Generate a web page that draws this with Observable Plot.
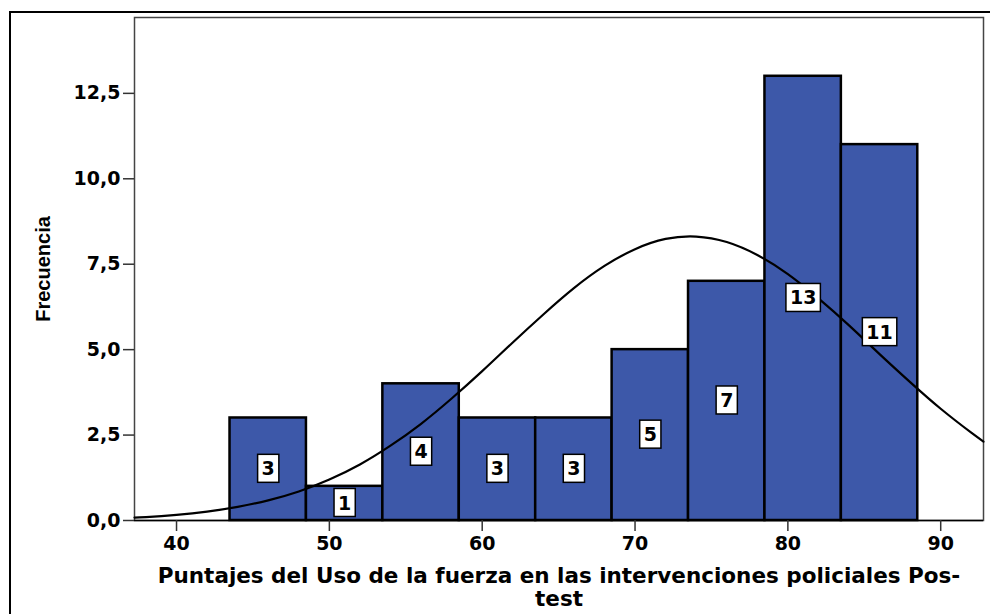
<!DOCTYPE html>
<html><head><meta charset="utf-8">
<script src="https://cdn.jsdelivr.net/npm/d3@7"></script>
<script src="https://cdn.jsdelivr.net/npm/@observablehq/plot@0.6"></script>
<style>
html,body{margin:0;padding:0;background:#fff;overflow:hidden;width:990px;height:614px}
#wrap{position:relative;width:990px;height:614px}
#wrap svg{position:absolute;left:0;top:0}
#outer{position:absolute;left:9px;top:11px;width:1100px;height:800px;border:2px solid #000;pointer-events:none}
</style></head><body><div id="wrap"><div id="outer"></div></div>
<script>
// Histogram bins (bin edges) and counts
const binLo = [43.5, 48.5, 53.5, 58.5, 63.5, 68.5, 73.5, 78.5, 83.5];
const binHi = [48.5, 53.5, 58.5, 63.5, 68.5, 73.5, 78.5, 83.5, 88.5];
const counts = [3, 1, 4, 3, 3, 5, 7, 13, 11];
// Normal curve
const curveX = [37.25, 38, 40, 42, 44, 46, 48, 50, 52, 54, 56, 58, 60, 62, 64, 66, 68, 70, 72, 74, 76, 78, 80, 82, 84, 86, 88, 90, 92, 92.8];
const curveY = [0.085, 0.10, 0.165, 0.26, 0.40, 0.59, 0.85, 1.20, 1.64, 2.19, 2.83, 3.57, 4.37, 5.21, 6.03, 6.80, 7.45, 7.94, 8.24, 8.31, 8.15, 7.77, 7.21, 6.50, 5.71, 4.87, 4.05, 3.27, 2.57, 2.31];
const xTicks = [40, 50, 60, 70, 80, 90];
const yTicks = [0, 2.5, 5, 7.5, 10, 12.5];
const xTitle = "Puntajes del Uso de la fuerza en las intervenciones policiales Pos-\ntest";
const yTitle = "Frecuencia";

const bars = counts.map((c, i) => ({x1: binLo[i], x2: binHi[i], y: c}));
const curve = curveX.map((x, i) => ({x, y: curveY[i]}));
const fmt = d => d.toFixed(1).replace(".", ",");
const FONT = "DejaVu Sans";

const svg = Plot.plot({
  width: 990,
  height: 614,
  marginLeft: 134,
  marginTop: 17,
  marginRight: 7,
  marginBottom: 94,
  style: {fontFamily: FONT, fontWeight: "bold", fontSize: "19px", background: "transparent", color: "#000"},
  x: {domain: [37.25, 92.8]},
  y: {domain: [0, 14.72]},
  marks: [
    Plot.frame({stroke: "#444", strokeWidth: 1.5}),
    Plot.rectY(bars, {x1: "x1", x2: "x2", y: "y", fill: "#3d58a9", stroke: "#000", strokeWidth: 2.5, inset: 0}),
    Plot.line(curve, {x: "x", y: "y", stroke: "#000", strokeWidth: 2.2, curve: "natural"}),
    Plot.ruleY([0], {stroke: "#000", strokeWidth: 1.5}),
    Plot.axisY({ticks: yTicks, tickFormat: fmt, tickSize: 11, tickPadding: 3, label: null, stroke: "#333", strokeWidth: 1.5, fontSize: 19, fontWeight: "bold", fontFamily: FONT}),
    Plot.axisX({ticks: xTicks, tickSize: 11, tickPadding: 5, label: null, stroke: "#333", strokeWidth: 1.5, fontSize: 19, fontWeight: "bold", fontFamily: FONT}),
    Plot.text([xTitle], {frameAnchor: "bottom", dx: 0, dy: 67, lineAnchor: "middle", lineHeight: 1.06, fontSize: 21.5, fontWeight: "bold", fontFamily: FONT, fill: "#000"}),
    Plot.text([yTitle], {frameAnchor: "left", dx: -90.5, rotate: -90, textAnchor: "middle", fontSize: 20, fontWeight: "bold", fontFamily: "Liberation Sans", fill: "#000"}),
    Plot.text(bars, {x: d => (d.x1 + d.x2) / 2, y: d => d.y / 2, text: d => String(d.y), fontSize: 19, fontWeight: "bold", fontFamily: FONT, fill: "#000"})
  ]
});
document.getElementById("wrap").insertBefore(svg, document.getElementById("outer"));

// white boxes behind the bar labels (last mark), sized from the rendered text
const groups = svg.querySelectorAll(":scope > g");
const g = groups[groups.length - 1];
if (g) {
  g.querySelectorAll("text").forEach(t => {
    const b = t.getBBox();
    const r = document.createElementNS("http://www.w3.org/2000/svg", "rect");
    r.setAttribute("x", b.x - 4);
    r.setAttribute("y", b.y - 3);
    r.setAttribute("width", b.width + 8);
    r.setAttribute("height", b.height + 6);
    r.setAttribute("fill", "#fff");
    r.setAttribute("stroke", "#000");
    r.setAttribute("stroke-width", "1.5");
    const tr = t.getAttribute("transform");
    if (tr) r.setAttribute("transform", tr);
    t.parentNode.insertBefore(r, t);
  });
}
</script></body></html>
